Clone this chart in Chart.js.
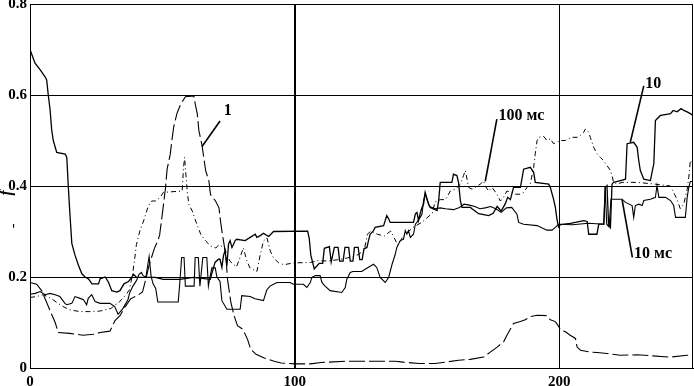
<!DOCTYPE html>
<html>
<head>
<meta charset="utf-8">
<script src="https://cdn.jsdelivr.net/npm/chart.js@4.4.1/dist/chart.umd.min.js"></script>
<style>
  html, body { margin: 0; padding: 0; background: #fff; }
  canvas { display: block; }
</style>
</head>
<body>
<canvas id="c" width="694" height="386"></canvas>
<script>
// ---- axis ticks ----
const xTicks = [0, 100, 200];
const yTicks = [0, 0.2, 0.4, 0.6, 0.8];
const xMax = 250.5;

// ---- series: [x, f] pairs ----
// curve "1" (long dashes)
const curve1 = [[0,0.188],[2.5,0.184],[4.4,0.17],[7.6,0.126],[9.5,0.1],[10.7,0.078],[15,0.076],[20,0.072],[23.9,0.074],[26.5,0.078],[30.2,0.081],[32.1,0.104],[34,0.115],[36,0.135],[38,0.152],[40.5,0.159],[42.5,0.167],[43.8,0.196],[45,0.226],[47,0.263],[48.4,0.281],[49,0.293],[50.2,0.348],[51.2,0.396],[51.8,0.437],[53,0.47],[53.6,0.5],[54.3,0.53],[55.5,0.559],[56.8,0.578],[58.7,0.596],[61.9,0.598],[62.5,0.578],[63.2,0.559],[63.8,0.522],[65,0.489],[65.8,0.456],[66.4,0.433],[67.6,0.411],[68.2,0.381],[70.1,0.367],[71.4,0.352],[72,0.322],[72.7,0.293],[74,0.248],[74.6,0.196],[75.9,0.144],[77.1,0.115],[78.4,0.093],[80.4,0.085],[82.2,0.063],[83.4,0.041],[85.4,0.03],[88.5,0.022],[92.3,0.015],[94.8,0.011],[100,0.009],[106,0.009],[110,0.012],[119,0.015],[129,0.015],[138,0.015],[141,0.013],[147,0.01],[153,0.01],[157,0.013],[162,0.017],[166.3,0.019],[171.4,0.024],[173.9,0.035],[176.5,0.046],[179,0.058],[180.2,0.072],[182.7,0.098],[185.3,0.102],[187.1,0.106],[189,0.113],[191.6,0.116],[195.3,0.115],[196.6,0.106],[198.5,0.102],[199.8,0.091],[200.4,0.083],[202.2,0.08],[204.1,0.072],[206.1,0.065],[206.7,0.046],[208,0.039],[211.7,0.035],[214.3,0.034],[218,0.032],[223,0.028],[229.4,0.029],[234.4,0.027],[241.9,0.024],[248.3,0.028],[250.5,0.028]];

// curve "100 мс" (dash-dot)
const curve100ms = [[0,0.155],[2.4,0.157],[4.9,0.161],[6.7,0.157],[8.7,0.15],[10.6,0.142],[12.5,0.135],[15,0.128],[18.8,0.124],[22.5,0.124],[26.3,0.125],[28.3,0.128],[30.7,0.131],[32,0.139],[33.3,0.142],[34.5,0.15],[35.7,0.157],[37.6,0.172],[38.9,0.212],[39.6,0.242],[40.2,0.271],[41.5,0.301],[42.9,0.323],[44.7,0.356],[46,0.367],[47.3,0.367],[49.2,0.375],[50.4,0.386],[57.5,0.389],[58,0.44],[58.4,0.463],[58.7,0.44],[59.4,0.389],[60,0.36],[61.3,0.345],[62.6,0.323],[64.5,0.294],[66.4,0.279],[68.3,0.268],[70.2,0.264],[71.5,0.271],[73.4,0.264],[75.5,0.235],[78,0.222],[79.3,0.242],[80.6,0.264],[81.9,0.236],[83.1,0.22],[85.7,0.212],[87,0.249],[88.2,0.279],[89.5,0.286],[90.2,0.271],[90.8,0.257],[92,0.242],[94,0.231],[95.9,0.227],[99.7,0.231],[106,0.232],[108.7,0.236],[112.5,0.235],[116.3,0.238],[120,0.242],[124,0.249],[126.3,0.26],[127.5,0.294],[128.7,0.301],[131.3,0.294],[133.8,0.29],[136.3,0.301],[137.6,0.286],[139,0.27],[141,0.29],[143,0.3],[145,0.31],[148,0.32],[150,0.33],[152,0.34],[153,0.365],[155,0.37],[157,0.37],[158.8,0.389],[160.7,0.393],[162.6,0.404],[163.8,0.423],[164.5,0.434],[165.7,0.397],[167,0.393],[168.2,0.397],[170.1,0.404],[171.4,0.411],[172,0.4],[173.3,0.389],[174.6,0.397],[176.4,0.382],[177.7,0.367],[178.9,0.375],[180.2,0.389],[182.1,0.386],[183.4,0.382],[185.3,0.382],[186.5,0.386],[187.8,0.397],[189,0.404],[190.3,0.441],[190.9,0.471],[191.6,0.5],[192.2,0.507],[194.1,0.509],[195.3,0.5],[196.6,0.504],[197.8,0.493],[199.1,0.496],[200.4,0.5],[202.3,0.5],[203.5,0.504],[204.8,0.507],[206.7,0.507],[207.9,0.511],[209.2,0.518],[209.8,0.525],[210.5,0.522],[211.1,0.518],[211.7,0.507],[213,0.485],[214.2,0.471],[215.5,0.463],[216.7,0.456],[218,0.445],[219.3,0.434],[219.9,0.423],[220.5,0.408],[221.8,0.404],[223.7,0.408],[229.4,0.408],[236.3,0.404],[242,0.4],[244.5,0.37],[245.7,0.35],[247,0.36],[248.3,0.393],[248.9,0.419],[249.5,0.456],[250.5,0.45]];

// curve "10" (solid)
const curve10 = [[0,0.70],[1.9,0.67],[3.8,0.656],[5.7,0.64],[6.3,0.633],[6.9,0.60],[7.6,0.567],[8.2,0.523],[8.8,0.5],[10.1,0.474],[13.3,0.47],[13.9,0.463],[14.5,0.396],[15.1,0.337],[15.8,0.274],[17,0.248],[18.3,0.226],[19.6,0.207],[20.8,0.2],[22.1,0.196],[23.4,0.185],[25.9,0.185],[26.5,0.196],[28.4,0.2],[29.6,0.189],[30.9,0.17],[32.8,0.167],[34,0.17],[35.5,0.185],[37.2,0.19],[38.5,0.2],[39.1,0.206],[40.3,0.199],[42.8,0.199],[47.3,0.199],[50.4,0.195],[56.7,0.195],[61.7,0.199],[68.1,0.195],[69.9,0.232],[71.2,0.239],[71.8,0.239],[72.5,0.221],[73.1,0.247],[73.7,0.258],[74.4,0.225],[75,0.272],[75.6,0.28],[76.3,0.265],[76.9,0.272],[77.5,0.28],[78.1,0.283],[81.3,0.28],[83.2,0.287],[85.1,0.294],[85.7,0.287],[87,0.291],[88.2,0.296],[90.2,0.289],[92,0.30],[104.9,0.301],[105.5,0.285],[106.1,0.248],[107.4,0.218],[109.3,0.23],[110.6,0.23],[111.2,0.263],[113.1,0.267],[113.8,0.233],[115,0.265],[116.4,0.265],[117,0.235],[118.3,0.235],[119,0.265],[120.4,0.265],[121,0.235],[122,0.235],[122.6,0.265],[124,0.265],[124.6,0.238],[125.5,0.238],[126.2,0.262],[127.3,0.265],[127.9,0.28],[128.5,0.294],[129.8,0.302],[130.4,0.309],[133.6,0.313],[134.2,0.324],[134.8,0.335],[135.5,0.328],[136.1,0.32],[144.9,0.32],[145.6,0.339],[146.2,0.342],[146.8,0.324],[147.4,0.339],[148.1,0.353],[148.7,0.36],[149.3,0.386],[150,0.372],[150.6,0.36],[151.2,0.353],[153.8,0.346],[154.4,0.368],[155,0.408],[159.4,0.408],[160,0.426],[161.3,0.423],[161.9,0.408],[162.6,0.368],[163.2,0.353],[166.4,0.353],[167,0.35],[169.5,0.339],[173.3,0.335],[175,0.34],[176.5,0.355],[178,0.345],[179.5,0.36],[180.5,0.375],[181.5,0.37],[182.7,0.397],[185.3,0.397],[186.5,0.437],[189,0.441],[190.3,0.43],[190.9,0.408],[196,0.404],[196.6,0.397],[197.8,0.371],[198.5,0.353],[199.1,0.327],[199.7,0.31],[200.4,0.315],[204.2,0.318],[209.2,0.324],[210.5,0.322],[211.1,0.294],[214.2,0.294],[214.9,0.316],[216.8,0.316],[217.4,0.397],[218,0.401],[218.6,0.316],[219.3,0.309],[219.9,0.404],[220.5,0.408],[223.1,0.412],[225,0.415],[225.6,0.493],[228.1,0.496],[229.4,0.485],[230,0.456],[230.6,0.434],[231.9,0.415],[234.4,0.412],[235.7,0.449],[236.3,0.544],[238.2,0.555],[240,0.557],[242,0.559],[243,0.566],[244.5,0.563],[246,0.57],[247,0.566],[248.3,0.563],[249.5,0.559],[250.5,0.555]];

// curve "10 мс" (solid)
const curve10ms = [[0,0.162],[2,0.164],[3.8,0.168],[5.7,0.161],[7.6,0.164],[9.5,0.161],[11.3,0.157],[13.2,0.142],[13.9,0.139],[15.8,0.142],[17,0.157],[18.9,0.153],[20.2,0.15],[21.4,0.139],[22,0.153],[23.3,0.161],[24.6,0.146],[26.5,0.142],[30.2,0.142],[32,0.135],[33.3,0.118],[35,0.13],[37,0.15],[37.7,0.166],[38.9,0.18],[40.2,0.192],[41.2,0.206],[42.1,0.21],[42.7,0.203],[43.8,0.2],[45,0.245],[45.8,0.2],[46.5,0.185],[47.5,0.175],[48.3,0.145],[56,0.145],[56.5,0.18],[57.3,0.243],[58.2,0.243],[58.7,0.18],[62,0.18],[62.4,0.243],[63.6,0.243],[64.2,0.18],[65.3,0.243],[66.8,0.243],[67.4,0.18],[68,0.2],[68.7,0.22],[70,0.22],[70.6,0.2],[71.8,0.19],[72.5,0.148],[74.4,0.129],[79.4,0.129],[80,0.159],[83.2,0.157],[85,0.152],[88.2,0.148],[89.5,0.172],[90.7,0.18],[92,0.184],[93.3,0.188],[98.3,0.188],[99.5,0.184],[103.3,0.184],[104.6,0.177],[105.9,0.188],[106.5,0.199],[107.8,0.203],[109.6,0.203],[110.3,0.188],[111.5,0.18],[113.4,0.17],[117.8,0.166],[119.1,0.177],[119.7,0.195],[121,0.21],[122,0.212],[125.3,0.212],[128,0.222],[129.8,0.228],[131,0.221],[132.3,0.199],[134.2,0.188],[135.5,0.199],[136.8,0.228],[138,0.25],[138.6,0.265],[139.9,0.28],[141.1,0.283],[141.8,0.302],[142.4,0.294],[143,0.302],[143.7,0.287],[144.9,0.294],[145.6,0.316],[146.2,0.32],[147.4,0.331],[148.1,0.338],[148.7,0.368],[149.3,0.383],[150,0.37],[151,0.355],[153,0.35],[155,0.352],[157,0.35],[160,0.348],[162,0.352],[164,0.36],[166,0.358],[168,0.355],[170,0.35],[172,0.352],[174,0.355],[176,0.35],[178,0.342],[180,0.352],[182,0.353],[184,0.338],[184.6,0.32],[186.5,0.316],[191.6,0.313],[195.3,0.303],[197.2,0.303],[198.5,0.309],[199.7,0.316],[205,0.315],[211,0.318],[216.8,0.316],[217.3,0.40],[217.9,0.316],[218.8,0.31],[219.5,0.371],[223.7,0.371],[225,0.364],[227.5,0.357],[228.1,0.331],[228.7,0.357],[230,0.36],[231.3,0.357],[231.9,0.368],[234.4,0.371],[236.3,0.375],[236.9,0.401],[237.6,0.375],[240.1,0.375],[242,0.368],[243.2,0.357],[243.9,0.331],[247.6,0.331],[248.3,0.375],[248.9,0.397],[249.5,0.41],[250.5,0.41]];

// ---- curve labels with leader lines (data units) ----
const curveLabels = [
  { text: '1',      x: 73.2,  y: 0.565, lx1: 71.8,  ly1: 0.543, lx2: 65.0,  ly2: 0.487 },
  { text: '10',     x: 232.5, y: 0.625, lx1: 231.9, ly1: 0.62,  lx2: 226.8, ly2: 0.496 },
  { text: '100 мс', x: 177.0, y: 0.555, lx1: 176.4, ly1: 0.547, lx2: 172.0, ly2: 0.41 },
  { text: '10 мс',  x: 228.2, y: 0.25,  lx1: 227.6, ly1: 0.243, lx2: 223.7, ly2: 0.37 }
];
const yTitle = 'f';

const toXY = arr => arr.map(p => ({ x: p[0], y: p[1] }));
const serif = 'Liberation Serif, Times New Roman, serif';

const labelPlugin = {
  id: 'curveLabels',
  afterDatasetsDraw(chart) {
    const { ctx, scales: { x, y }, chartArea } = chart;
    ctx.save();
    // frame (top & right)
    ctx.strokeStyle = '#000';
    ctx.lineWidth = 1;
    ctx.beginPath();
    ctx.moveTo(Math.round(chartArea.left) + 0.5, Math.round(chartArea.top) + 0.5);
    ctx.lineTo(Math.round(chartArea.right) - 0.5, Math.round(chartArea.top) + 0.5);
    ctx.lineTo(Math.round(chartArea.right) - 0.5, Math.round(chartArea.bottom) + 0.5);
    ctx.stroke();
    // leaders
    ctx.lineWidth = 1.6;
    curveLabels.forEach(l => {
      ctx.beginPath();
      ctx.moveTo(x.getPixelForValue(l.lx1), y.getPixelForValue(l.ly1));
      ctx.lineTo(x.getPixelForValue(l.lx2), y.getPixelForValue(l.ly2));
      ctx.stroke();
    });
    ctx.fillStyle = '#000';
    ctx.font = 'bold 16px ' + serif;
    ctx.textAlign = 'left';
    ctx.textBaseline = 'middle';
    curveLabels.forEach(l => {
      ctx.fillText(l.text, x.getPixelForValue(l.x), y.getPixelForValue(l.y));
    });
    // y title (rotated)
    ctx.translate(chartArea.left - 23, y.getPixelForValue(0.385));
    ctx.rotate(-Math.PI / 2);
    ctx.textAlign = 'center';
    ctx.font = 'italic bold 16px ' + serif;
    ctx.fillText(yTitle, 0, 0);
    ctx.font = '14px ' + serif;
    ctx.fillText('-', -33, 6);
    ctx.restore();
  }
};

const tickFont = { family: serif, size: 15, weight: 'bold' };

new Chart(document.getElementById('c'), {
  type: 'scatter',
  data: {
    datasets: [
      { label: '1', data: toXY(curve1), showLine: true, borderColor: '#000', borderWidth: 1.1, borderDash: [16, 4], pointRadius: 0, tension: 0 },
      { label: '100 мс', data: toXY(curve100ms), showLine: true, borderColor: '#000', borderWidth: 1, borderDash: [5, 3, 1, 3], pointRadius: 0, tension: 0 },
      { label: '10 мс', data: toXY(curve10ms), showLine: true, borderColor: '#000', borderWidth: 1.1, pointRadius: 0, tension: 0 },
      { label: '10', data: toXY(curve10), showLine: true, borderColor: '#000', borderWidth: 1.3, pointRadius: 0, tension: 0 }
    ]
  },
  options: {
    responsive: false,
    animation: false,
    events: [],
    layout: { padding: { left: 0, right: 1, top: 4, bottom: 0 } },
    plugins: { legend: { display: false }, tooltip: { enabled: false } },
    scales: {
      x: {
        type: 'linear', min: 0, max: xMax,
        afterBuildTicks: s => { s.ticks = xTicks.map(v => ({ value: v })); },
        ticks: { color: '#000', font: tickFont, padding: 5, maxRotation: 0, autoSkip: false },
        grid: { color: '#000', drawTicks: false, lineWidth: c => (c.tick && c.tick.value === 100) ? 2 : 1 },
        border: { color: '#000', width: 1 },
        afterFit: s => { s.height = 18; s.paddingLeft = 0; s.paddingRight = 0; }
      },
      y: {
        min: 0, max: 0.8,
        afterBuildTicks: s => { s.ticks = yTicks.map(v => ({ value: v })); },
        ticks: { color: '#000', font: tickFont, padding: 3, callback: v => String(Math.round(v * 10) / 10) },
        grid: { color: '#000', drawTicks: false, lineWidth: 1 },
        border: { color: '#000', width: 1 },
        afterFit: s => { s.width = 30; s.paddingTop = 0; s.paddingBottom = 0; }
      }
    }
  },
  plugins: [labelPlugin]
});
</script>
</body>
</html>
